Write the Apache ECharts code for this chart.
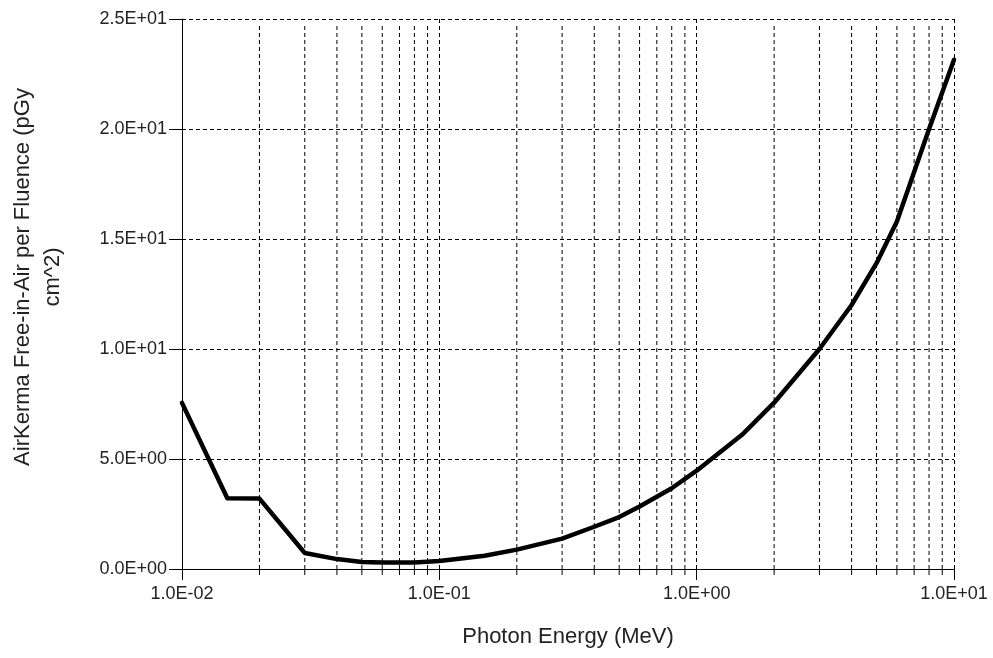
<!DOCTYPE html>
<html lang="en">
<head>
    <meta charset="UTF-8">
    <title>AirKerma per fluence</title>
    <script src="https://cdn.jsdelivr.net/npm/echarts@6/dist/echarts.min.js"></script>
    <style>
        html, body { margin: 0; padding: 0; background: #fff; }
        #chart { width: 993px; height: 658px; }
    </style>
</head>
<body>
<div id="chart"></div>

<script>
    // photon energy (MeV) and kerma values
    var energies = [0.01, 0.015, 0.02, 0.03, 0.04, 0.05, 0.06, 0.08, 0.1, 0.15, 0.2, 0.3, 0.4,
        0.5, 0.6, 0.8, 1, 1.5, 2, 3, 4, 5, 6, 8, 10];
    var kerma = [7.55, 3.22, 3.2, 0.73, 0.45, 0.32, 0.29, 0.3, 0.36, 0.6, 0.88, 1.38, 1.92,
        2.36, 2.84, 3.67, 4.47, 6.1, 7.56, 10.0, 12.0, 13.9, 15.8, 20.0, 23.15];
    // minor log ticks (2..9 in every decade)
    var minorTicks = [0.02, 0.03, 0.04, 0.05, 0.06, 0.07, 0.08, 0.09,
        0.2, 0.3, 0.4, 0.5, 0.6, 0.7, 0.8, 0.9,
        2, 3, 4, 5, 6, 7, 8, 9];
    var xMin = 0.01, xMax = 10;
    var yMin = 0, yMax = 25, yStep = 5;

    function sci(v) {
        var parts = Number(v).toExponential(1).split('e');
        var ex = parseInt(parts[1], 10);
        var sign = ex < 0 ? '-' : '+';
        ex = Math.abs(ex);
        return parts[0] + 'E' + sign + (ex < 10 ? '0' + ex : ex);
    }

    var font = 'Arial, "Liberation Sans", sans-serif';
    var dash = [4, 3];

    var chart = echarts.init(document.getElementById('chart'));
    var points = energies.map(function (e, i) { return [e, kerma[i]]; });

    var option = {
        animation: false,
        backgroundColor: '#fff',
        grid: { left: 181, right: 39, top: 19, bottom: 89 },
        xAxis: {
            type: 'log',
            logBase: 10,
            min: xMin,
            max: xMax,
            name: 'Photon Energy (MeV)',
            nameLocation: 'middle',
            nameGap: 57,
            nameTextStyle: { fontFamily: font, fontSize: 22, color: '#222' },
            axisLine: { lineStyle: { color: '#000', width: 1 } },
            axisTick: { length: 11, lineStyle: { color: '#000' } },
            axisLabel: { fontFamily: font, fontSize: 18, color: '#222', margin: 16, formatter: sci },
            splitLine: { show: true, lineStyle: { color: '#000', type: dash, width: 1 } }
        },
        yAxis: {
            type: 'value',
            min: yMin,
            max: yMax,
            interval: yStep,
            name: 'AirKerma Free-in-Air per Fluence (pGy\ncm^2)',
            nameLocation: 'middle',
            nameRotate: 90,
            nameGap: 114,
            nameTextStyle: {
                fontFamily: font, fontSize: 22, color: '#222', lineHeight: 30,
                align: 'center', padding: [0, 0, 0, 34]
            },
            axisLine: { show: true, lineStyle: { color: '#000', width: 1 } },
            axisTick: { show: true, length: 13, lineStyle: { color: '#000' } },
            axisLabel: { fontFamily: font, fontSize: 18, color: '#222', margin: 15, formatter: sci },
            splitLine: { show: true, lineStyle: { color: '#000', type: dash, width: 1 } }
        },
        series: [
            {
                // minor grid lines + small ticks under the axis
                type: 'custom',
                silent: true,
                clip: false,
                z: 1,
                data: minorTicks.map(function (v) { return [v]; }),
                renderItem: function (params, api) {
                    var v = api.value(0);
                    var p0 = api.coord([v, yMin]);
                    var p1 = api.coord([v, yMax]);
                    return {
                        type: 'group',
                        children: [
                            {
                                type: 'line',
                                shape: { x1: p0[0], y1: p0[1], x2: p1[0], y2: p1[1] + 5 },
                                style: { stroke: '#000', lineWidth: 1, lineDash: dash }
                            },
                            {
                                type: 'line',
                                shape: { x1: p0[0], y1: p0[1], x2: p0[0], y2: p0[1] + 6 },
                                style: { stroke: '#000', lineWidth: 1 }
                            }
                        ]
                    };
                }
            },
            {
                type: 'line',
                data: points,
                symbol: 'none',
                smooth: false,
                z: 5,
                lineStyle: { color: '#000', width: 4.5, cap: 'round', join: 'round' }
            }
        ]
    };
    chart.setOption(option);
</script>
</body>
</html>
